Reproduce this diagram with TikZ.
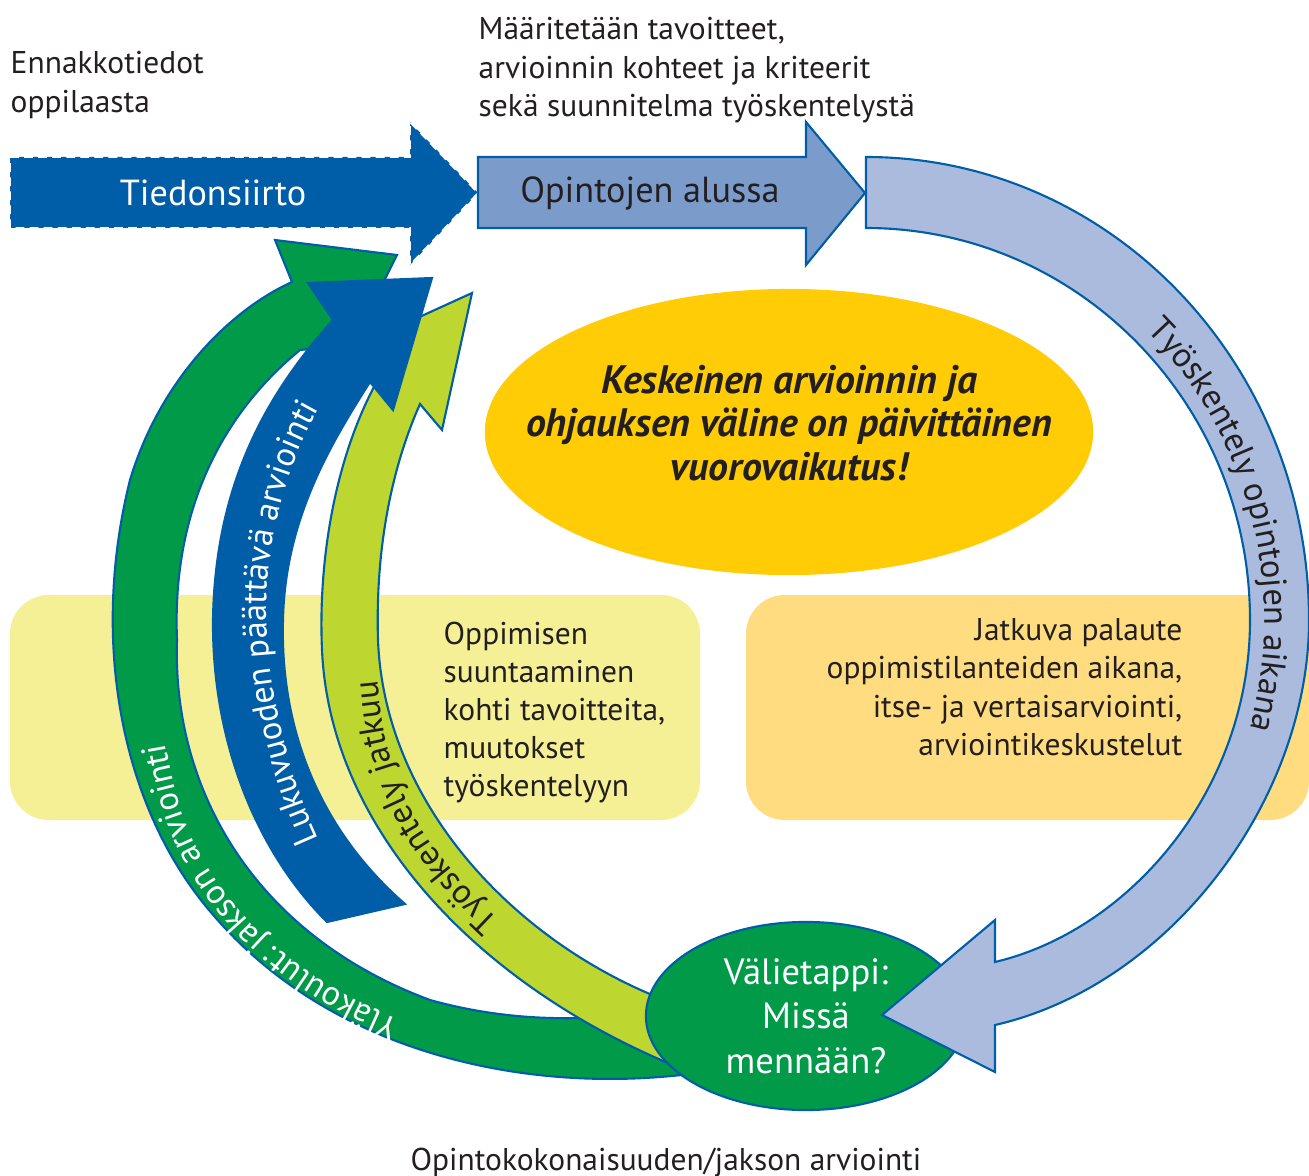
\documentclass[tikz,border=0pt]{standalone}
\usepackage{fontspec}
\setmainfont{PT Sans}
\usetikzlibrary{shapes.geometric,decorations.text}

\definecolor{deepblue}{RGB}{0,94,168}
\definecolor{midblue}{RGB}{123,155,203}
\definecolor{paleblue}{RGB}{170,187,221}
\definecolor{leafgreen}{RGB}{0,154,73}
\definecolor{limegreen}{RGB}{190,214,48}
\definecolor{sunyellow}{RGB}{255,204,6}
\definecolor{palebox}{RGB}{245,240,150}
\definecolor{sandbox}{RGB}{255,220,127}
\definecolor{ink}{RGB}{35,31,32}

\newcommand{\notefont}{\fontsize{8.95}{10.85}\selectfont}
\newcommand{\headfont}{\fontsize{10.3}{12}\selectfont}
\newcommand{\corefont}{\fontsize{11.3}{12.3}\selectfont\bfseries\itshape}
\newcommand{\stopfont}{\fontsize{10.4}{12.6}\selectfont}
\newcommand{\bandfont}{\fontsize{9.8}{10}\selectfont}

\tikzset{
  outlined/.style={draw=deepblue, line width=0.6pt, miter limit=20},
  note/.style={font=\notefont, text=ink, inner sep=0pt},
  roundbox/.style={rounded corners=11pt},
}

\begin{document}
\begin{tikzpicture}[x=0.01cm, y=-0.01cm]
\useasboundingbox (0,0) rectangle (1309,1176);

% background boxes
\fill[palebox, roundbox] (10,595) rectangle (700,820);
\fill[sandbox, roundbox] (746,595) rectangle (1309,820);

% centre message
\node[ellipse, fill=sunyellow, minimum width=6.08cm, minimum height=2.86cm] (core) at (789,432) {};
\node[font=\corefont, text=ink, align=center] (coretext) at (789,423)
  {Keskeinen arvioinnin ja\\ohjauksen väline on päivittäinen\\vuorovaikutus!};

% arrows going back up on the left
\fill[leafgreen, outlined] (690,1074) .. controls (520,1095) and (330,1050) .. (215,917)
  .. controls (120,810) and (90,640) .. (130,480)
  .. controls (160,380) and (230,310) .. (292,282)
  -- (275,240) -- (397,255) -- (352,345) -- (300,350)
  .. controls (215,420) and (172,520) .. (177,640)
  .. controls (172,790) and (255,935) .. (430,1000)
  .. controls (520,1025) and (600,1020) .. (670,1010) -- cycle;
\fill[limegreen, outlined] (700,1012) .. controls (540,965) and (385,820) .. (378,640)
  .. controls (375,540) and (395,460) .. (420,404)
  -- (442,430) -- (472,293) -- (358,345) -- (375,385)
  .. controls (335,460) and (318,560) .. (322,650)
  .. controls (330,830) and (480,990) .. (690,1072) -- cycle;
\fill[deepblue, outlined] (327,922) -- (405,904)
  .. controls (320,830) and (280,730) .. (283,620)
  .. controls (285,520) and (330,445) .. (370,382)
  -- (393,410) -- (432,278) -- (308,283) -- (333,320)
  .. controls (270,390) and (215,480) .. (213,620)
  .. controls (212,740) and (255,850) .. (327,922) -- cycle;

% checkpoint
\node[ellipse, fill=leafgreen, outlined, minimum width=3.2cm, minimum height=1.88cm,
  inner sep=0pt, align=center, font=\stopfont, text=white] (stop) at (806,1016)
  {Välietappi:\\Missä\\mennään?};

% working period
\fill[paleblue, outlined] (866,157) .. controls (1111,157) and (1309,364) .. (1309,620)
  .. controls (1309,800) and (1170,985) .. (995,1025)
  -- (995,1072) -- (882,1015) -- (995,920) -- (995,962)
  .. controls (1130,930) and (1250,790) .. (1250,620)
  .. controls (1250,404) and (1078,228) .. (866,228) -- cycle;

% top row
\fill[deepblue, draw=white, dash pattern=on 2.5pt off 1.5pt, line width=0.5pt]
  (10,157) -- (410,157) -- (410,122) -- (478,193) -- (410,265) -- (410,228) -- (10,228) -- cycle;
\fill[midblue, outlined]
  (478,157) -- (806,157) -- (806,122) -- (865,193) -- (806,265) -- (806,228) -- (478,228) -- cycle;
\node[font=\headfont, text=white] (transfer) at (213,193) {Tiedonsiirto};
\node[font=\headfont, text=ink] (start) at (650,193) {Opintojen alussa};

% notes
\node[note, anchor=north west, align=left] (prior) at (10,51) {Ennakkotiedot\\oppilaasta};
\node[note, anchor=north west, align=left] (goals) at (478,17)
  {Määritetään tavoitteet,\\arvioinnin kohteet ja kriteerit\\sekä suunnitelma työskentelystä};
\node[note, anchor=north west, align=left] (steer) at (443,621)
  {Oppimisen\\suuntaaminen\\kohti tavoitteita,\\muutokset\\työskentelyyn};
\node[note, anchor=north east, align=right] (feedback) at (1183,618)
  {Jatkuva palaute\\oppimistilanteiden aikana,\\itse- ja vertaisarviointi,\\arviointikeskustelut};
\node[note] (unit) at (666,1163) {Opintokokonaisuuden/jakson arviointi};

% labels along the bands
\path[decorate, decoration={text along path, text align=center, text color=white,
  text={|\bandfont|Yläkoulut: jakson arviointi}}]
  (500,1050) .. controls (340,1015) and (218,932) .. (178,800) .. controls (163,745) and (158,700) .. (156,640);
\path[decorate, decoration={text along path, text align=center, text color=white,
  text={|\bandfont|Lukuvuoden päättävä arviointi}}]
  (345,890) .. controls (282,785) and (257,650) .. (270,560) .. controls (280,480) and (307,420) .. (350,360);
\path[decorate, decoration={text along path, text align=center, text color=ink,
  text={|\bandfont|Työskentely jatkuu}}]
  (585,990) .. controls (472,905) and (398,830) .. (382,720) .. controls (374,660) and (374,620) .. (380,570);
\path[decorate, decoration={text along path, text align=center, text color=ink,
  text={|\bandfont|Työskentely opintojen aikana}}]
  (1095,287) .. controls (1172,342) and (1227,423) .. (1251,515) .. controls (1275,607) and (1267,705) .. (1227,792);
\end{tikzpicture}
\end{document}
